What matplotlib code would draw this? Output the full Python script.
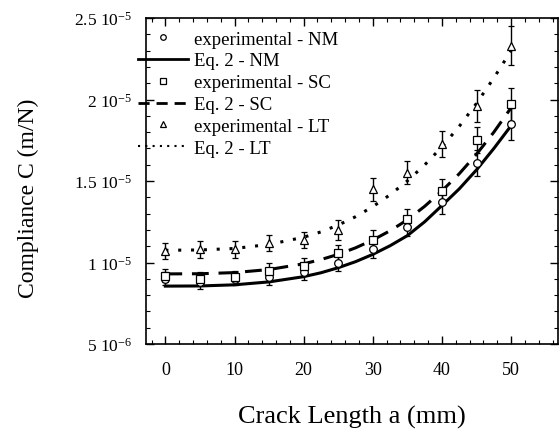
import numpy as np
import matplotlib
matplotlib.use("Agg")
import matplotlib.pyplot as plt
from matplotlib.ticker import MultipleLocator, FixedLocator

plt.rcParams["font.family"] = ["Liberation Serif", "DejaVu Serif"]
plt.rcParams["mathtext.fontset"] = "custom"
plt.rcParams["mathtext.rm"] = "Liberation Serif"
plt.rcParams["mathtext.it"] = "Liberation Serif:italic"

# crack length (mm)
a_exp = [0, 5, 10, 15, 20, 25, 30, 35, 40, 45, 50]

# experimental compliance (x 1e-5 m/N)
c_nm = [0.90, 0.88, 0.90, 0.91, 0.94, 1.00, 1.08, 1.22, 1.37, 1.61, 1.85]
c_sc = [0.92, 0.90, 0.91, 0.95, 0.98, 1.06, 1.14, 1.27, 1.44, 1.75, 1.97]
c_lt = [1.07, 1.08, 1.08, 1.12, 1.14, 1.20, 1.45, 1.55, 1.73, 1.96, 2.33]
err_nm = [0.04, 0.04, 0.04, 0.05, 0.05, 0.05, 0.05, 0.06, 0.07, 0.08, 0.10]
err_sc = [0.04, 0.04, 0.04, 0.05, 0.05, 0.05, 0.06, 0.06, 0.07, 0.08, 0.10]
err_lt = [0.05, 0.05, 0.05, 0.05, 0.05, 0.06, 0.07, 0.07, 0.08, 0.10, 0.12]

# Eq. 2 curves (x 1e-5 m/N)
a_fit = [0, 5, 10, 15, 20, 22.5, 25, 27.5, 30, 32.5, 35, 37.5, 40, 42.5, 45, 47.5, 50]
f_nm = [0.855, 0.856, 0.863, 0.881, 0.913, 0.937, 0.968, 1.005, 1.050, 1.103, 1.165, 1.250, 1.350, 1.452, 1.569, 1.700, 1.840]
f_sc = [0.930, 0.931, 0.938, 0.957, 0.992, 1.018, 1.050, 1.090, 1.138, 1.195, 1.262, 1.345, 1.440, 1.545, 1.665, 1.800, 1.950]
f_lt = [1.075, 1.077, 1.086, 1.111, 1.155, 1.188, 1.230, 1.281, 1.343, 1.416, 1.501, 1.599, 1.710, 1.836, 1.977, 2.133, 2.300]

ytick_vals = [0.5, 1.0, 1.5, 2.0, 2.5]
ytick_labels = ["5 10$^{-6}$", "1 10$^{-5}$", "1.5 10$^{-5}$", "2 10$^{-5}$", "2.5 10$^{-5}$"]

fig = plt.figure(figsize=(5.6, 4.35), dpi=100)
ax = fig.add_axes([0.2607, 0.207, 0.736, 0.749])

scale = 1e-5
a_exp = np.array(a_exp)
ebkw = dict(ecolor="black", elinewidth=1.0, capsize=2.5, capthick=1.0, linestyle="none",
            markersize=5.5, markeredgecolor="black", markerfacecolor="white", markeredgewidth=0.9)

ax.errorbar(a_exp, np.array(c_nm) * scale, yerr=np.array(err_nm) * scale, marker="o", **ebkw)
ax.plot(np.array(a_fit), np.array(f_nm) * scale, color="black", lw=2.2)
ax.errorbar(a_exp, np.array(c_sc) * scale, yerr=np.array(err_sc) * scale, marker="s", **ebkw)
ax.plot(np.array(a_fit), np.array(f_sc) * scale, color="black", lw=2.2, linestyle=(0, (5.5, 3.2)))
ax.errorbar(a_exp, np.array(c_lt) * scale, yerr=np.array(err_lt) * scale, marker="^", **ebkw)
ax.plot(np.array(a_fit), np.array(f_lt) * scale, color="black", lw=2.2, linestyle=(0, (1, 3.2)))

# legend handles
h1 = ax.plot([], [], "o", color="black", mfc="white", ms=4, mew=0.9)[0]
h2 = ax.plot([], [], color="black", lw=2.0)[0]
h3 = ax.plot([], [], "s", color="black", mfc="white", ms=4, mew=0.9)[0]
h4 = ax.plot([], [], color="black", lw=2.0, linestyle=(0, (4, 2.5)))[0]
h5 = ax.plot([], [], "^", color="black", mfc="white", ms=4, mew=0.9)[0]
h6 = ax.plot([], [], color="black", lw=1.5, linestyle=(0, (1, 2.5)))[0]
ax.legend([h1, h2, h3, h4, h5, h6],
          ["experimental - NM", "Eq. 2 - NM", "experimental - SC", "Eq. 2 - SC",
           "experimental - LT", "Eq. 2 - LT"],
          loc="upper left", bbox_to_anchor=(-0.02, 0.962), frameon=False,
          fontsize=13.5, handlelength=2.7, handletextpad=0.3, labelspacing=0.25,
          borderpad=0.0, borderaxespad=0.0)

ax.set_xlim(-2.8, 56.8)
ax.set_ylim(0.5 * scale, 2.5 * scale)
ax.xaxis.set_major_locator(FixedLocator([0, 10, 20, 30, 40, 50]))
ax.xaxis.set_minor_locator(MultipleLocator(2))
ax.yaxis.set_major_locator(FixedLocator(np.array(ytick_vals) * scale))
ax.set_yticklabels(ytick_labels)
ax.yaxis.set_minor_locator(MultipleLocator(0.1 * scale))
ax.tick_params(which="both", direction="in", top=True, right=True, color="black")
ax.tick_params(axis="x", labelsize=13, pad=12)
ax.tick_params(axis="y", labelsize=12.5, pad=10)
ax.tick_params(which="major", length=6, width=1.0)
ax.tick_params(which="minor", length=3, width=0.8)
for s in ax.spines.values():
    s.set_linewidth(1.2)

ax.set_xlabel("Crack Length a (mm)", fontsize=19, labelpad=20)
ax.set_ylabel("Compliance C (m/N)", fontsize=17)
ax.yaxis.set_label_coords(-0.26, 0.45)

fig.savefig("out.png", dpi=100, facecolor="white")
